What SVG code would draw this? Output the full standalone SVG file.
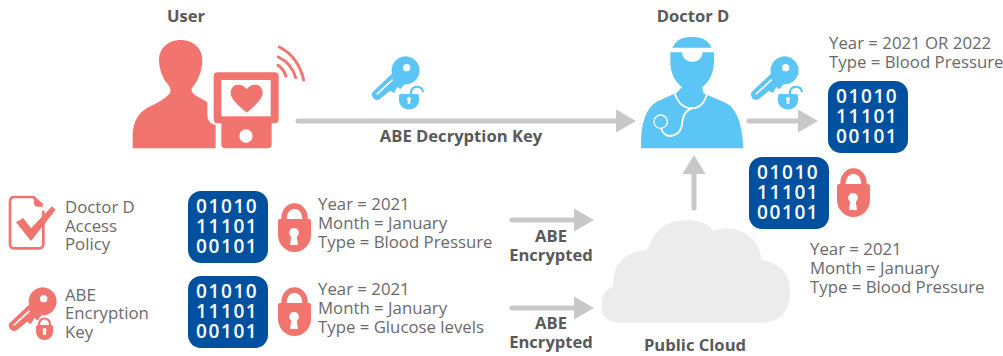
<svg xmlns="http://www.w3.org/2000/svg" xmlns:xlink="http://www.w3.org/1999/xlink" width="1003" height="356" viewBox="0 0 1003 356">
<style>
text{font-family:"Open Sans","Noto Sans","Liberation Sans",sans-serif}
.b{font-size:16.6px;font-weight:700;fill:#595959;text-anchor:middle}
.t{font-size:16.8px;fill:#6a6a6a}
.d{font-size:19px;font-weight:600;fill:#fff;letter-spacing:1.6px}
.c{stroke:#c8c8c8;stroke-width:5;stroke-linecap:round;fill:none}
.h{fill:#c8c8c8}
.r{fill:#f1756e}
.s{fill:#5bc5f5}
</style>
<defs>
<g id="block">
<rect width="80" height="72" rx="13" fill="#0050a0"/>
<text class="d" x="8" y="22">01010</text>
<text class="d" x="8" y="42">11101</text>
<text class="d" x="8" y="62">00101</text>
</g>
<g id="lock">
<path d="M6 17 V15 A10.500 12 0 0 1 27 15 V17" fill="none" stroke="#f1756e" stroke-width="5.500"/>
<path class="r" d="M2 16 H31 Q33 16 33 18 V32 A16.500 17 0 0 1 0 32 V18 Q0 16 2 16Z"/>
<path fill="#fff" d="M16 25 a4.800 4.800 0 0 1 2.800 8.700 l1.200 8.300 h-8 l1.200 -8.300 a4.800 4.800 0 0 1 2.800 -8.700Z"/>
</g>
<g id="key">
<g transform="scale(0.3333)">
<path d="M2 105 L60 50 A42 42 0 1 1 98 82 L85 97 L76 90 L66 108 L54 101 L24 126 Q12 133 4 124 Q-4 113 2 105Z"/>
<circle cx="104" cy="32" r="11" fill="#fff"/>
<path d="M14 112 L62 68" stroke="#fff" stroke-width="5" fill="none"/>
</g>
</g>
<g id="openlock">
<path d="M2 8 H18 Q20 8 20 10 V15 A10 8.500 0 0 1 0 15 V10 Q0 8 2 8Z"/>
<path fill="#fff" d="M10 11 a2 2 0 0 1 1.300 3.500 v3.500 h-2.600 v-3.500 a2 2 0 0 1 1.300 -3.500Z"/>
<path d="M12 8 V6.500 A6 5.500 0 0 1 24 6" fill="none" stroke="#5bc5f5" stroke-width="2.200"/>
</g>
<path id="ah" d="M0 -11.500 L20 0 L0 11.500Z"/>
</defs>

<g id="connectors">
<path class="c" d="M298 121 H618"/><use href="#ah" class="h" x="616" y="121"/>
<path class="c" d="M749 121 H800"/><use href="#ah" class="h" x="798" y="121"/>
<path class="c" d="M694 208 V172"/><path class="h" d="M682.500 174 L694 155 L705.500 174Z"/>
<path class="c" d="M512 220 H576"/><use href="#ah" class="h" x="574" y="220"/>
<path class="c" d="M512 308 H576"/><use href="#ah" class="h" x="574" y="308"/>
</g>

<g id="user">
<g transform="translate(120,0) scale(0.3333)">
<path class="r" d="M38 445 V400 Q42 345 85 322 Q130 302 150 280 Q155 268 145 255 Q118 225 117 180 C117 145 145 120 182 120 C220 120 247 145 247 180 C247 220 228 250 215 265 Q212 275 225 285 L262 307 V345 Q262 370 287 375 V445Z"/>
<rect class="r" x="281" y="217" width="195" height="153" rx="12"/>
<path class="r" d="M304 365 H455 V433 Q455 445 443 445 H316 Q304 445 304 433Z"/>
<rect x="304" y="240" width="148" height="109" fill="#fff"/>
<path class="r" d="M380 338 Q332 300 332 280 C332 245 370 250 380 268 C390 250 428 245 428 280 Q428 300 380 338Z"/>
<circle cx="378" cy="408" r="20" fill="#fff"/>
<g fill="none" stroke="#f1756e" stroke-width="9" stroke-linecap="round">
<path d="M478 141 Q535 170 551 240"/>
<path d="M475 171 Q515 190 527 233"/>
<path d="M474 196 Q491 207 498 229"/>
</g>
</g>
<text class="b" x="186" y="22">User</text>
</g>

<g id="doctor">
<g transform="translate(620,0) scale(0.3333)">
<path class="s" d="M157 143 Q172 110 216 110 Q260 110 275 143Z"/>
<path class="s" d="M151 157 H186 A31 29 0 0 0 248 157 H282 V190 Q280 235 247 262 L250 280 L310 305 Q365 325 370 445 H63 Q60 335 110 305 L170 278 L186 262 Q152 235 151 190Z"/>
<g fill="none" stroke="#fff" stroke-width="5.500" stroke-linecap="round">
<path d="M165 282 Q180 325 215 325 Q250 325 262 278"/>
<path d="M215 325 Q190 335 187 365 Q185 405 150 408 Q128 408 122 380"/>
</g>
<circle class="s" cx="122" cy="365" r="20" stroke="#fff" stroke-width="4"/>
</g>
<text class="b" x="693" y="22">Doctor D</text>
</g>

<g id="decrypt-key">
<use href="#key" class="s" x="372" y="57"/>
<use href="#openlock" class="s" x="399" y="86"/>
<text class="b" x="461" y="142">ABE Decryption Key</text>
</g>

<g id="decrypted-data">
<use href="#key" class="s" x="751" y="57"/>
<use href="#openlock" class="s" x="778" y="86"/>
<text class="t" x="829" y="49">Year = 2021 OR 2022</text>
<text class="t" x="829" y="68">Type = Blood Pressure</text>
<use href="#block" x="828" y="81"/>
</g>

<g id="cloud-data">
<use href="#block" x="749" y="157"/>
<use href="#lock" x="837" y="168"/>
<text class="t" x="810" y="255">Year = 2021</text>
<text class="t" x="810" y="274">Month = January</text>
<text class="t" x="810" y="293">Type = Blood Pressure</text>
</g>

<g id="policy">
<g transform="translate(0,180) scale(0.3333)">
<path d="M130 92 V192 Q130 205 117 205 H43 Q30 205 30 192 V64 Q30 51 43 51 H100 L128 76" fill="none" stroke="#f1756e" stroke-width="8"/>
<path class="r" d="M101 51 L130 80 H113 Q102 80 102 68Z"/>
<path class="r" d="M48 127 L70 114 L93 145 L156 79 L167 89 L93 183Z"/>
</g>
<text class="t" x="65" y="213">Doctor D</text>
<text class="t" x="65" y="232">Access</text>
<text class="t" x="65" y="250">Policy</text>
</g>

<g id="encryption-key">
<use href="#key" class="r" x="9" y="288"/>
<g transform="translate(36,317)">
<path d="M3 9 V7 A5.500 5.500 0 0 1 14 7 V9" fill="none" stroke="#f1756e" stroke-width="2.200"/>
<path class="r" d="M2 8 H15 Q17 8 17 10 V15 A8.500 8 0 0 1 0 15 V10 Q0 8 2 8Z"/>
<path fill="#fff" d="M8.500 11 a2 2 0 0 1 1.500 3.300 v3.700 h-3 v-3.700 a2 2 0 0 1 1.500 -3.300Z"/>
</g>
<text class="t" x="65" y="301">ABE</text>
<text class="t" x="65" y="319">Encryption</text>
<text class="t" x="65" y="338">Key</text>
</g>

<g id="record-blood">
<use href="#block" x="188" y="191"/>
<use href="#lock" x="278" y="203"/>
<text class="t" x="318" y="210">Year = 2021</text>
<text class="t" x="318" y="229">Month = January</text>
<text class="t" x="318" y="248">Type = Blood Pressure</text>
</g>

<g id="record-glucose">
<use href="#block" x="188" y="276"/>
<use href="#lock" x="278" y="287"/>
<text class="t" x="318" y="295">Year = 2021</text>
<text class="t" x="318" y="314">Month = January</text>
<text class="t" x="318" y="333">Type = Glucose levels</text>
</g>

<g id="labels">
<text class="b" x="551" y="242">ABE</text>
<text class="b" x="551" y="261">Encrypted</text>
<text class="b" x="551" y="329">ABE</text>
<text class="b" x="551" y="348">Encrypted</text>
</g>

<g id="cloud">
<g transform="translate(500,150) scale(0.3333)">
<path fill="#ececec" d="M360 518 Q305 518 305 465 Q305 420 340 410 Q335 310 442 300 Q470 210 560 210 Q615 210 640 243 Q660 235 680 235 Q770 240 785 330 Q870 345 870 425 Q870 518 780 518Z"/>
</g>
<text class="b" x="695" y="351">Public Cloud</text>
</g>
</svg>
